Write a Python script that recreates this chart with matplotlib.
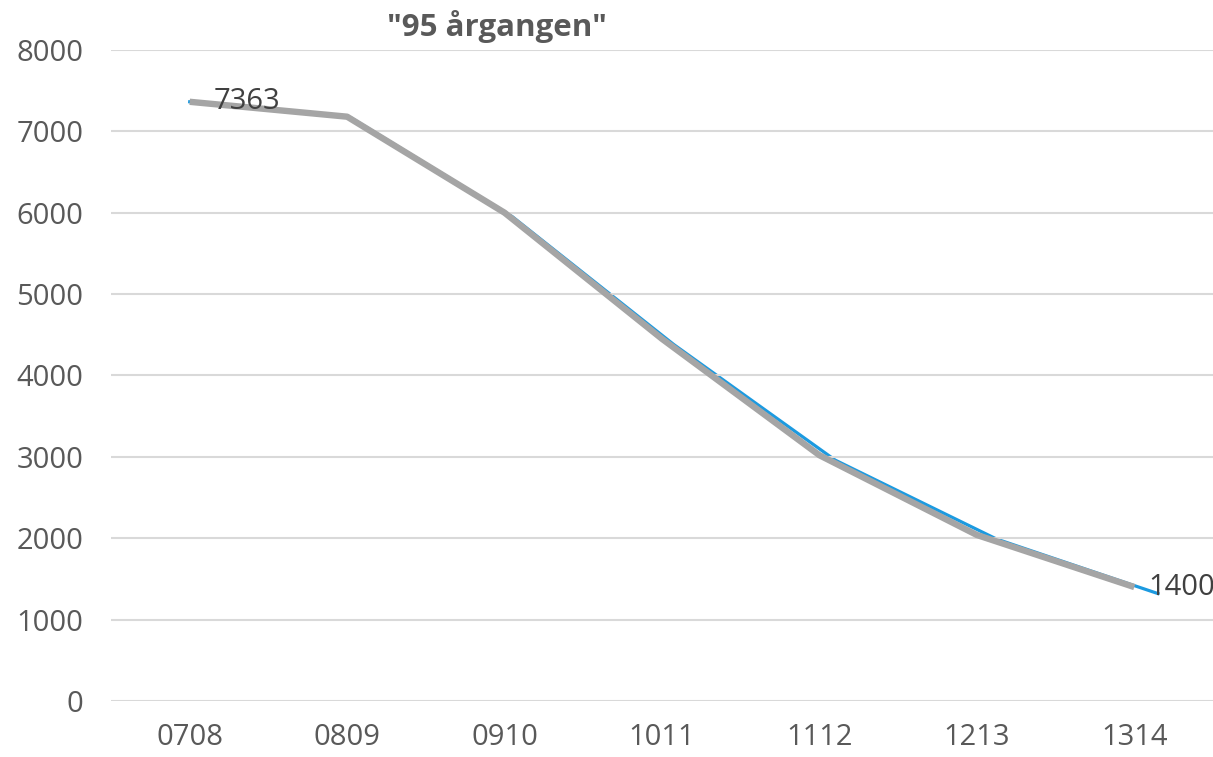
import matplotlib.pyplot as plt

# school years and pupil counts for the 1995 cohort
years = ['0708', '0809', '0910', '1011', '1112', '1213', '1314']
count_grey = [7363, 7180, 6000, 4450, 3020, 2040, 1400]
count_blue = [7363, 7165, 5950, 4380, 2960, 1990, 1320]

plt.rcParams['font.family'] = ['Open Sans', 'DejaVu Sans']

fig = plt.figure(figsize=(12.13, 7.57), dpi=100)
ax = fig.add_axes([0.0915, 0.074, 0.9085, 0.86])

pos = list(range(len(years)))

# blue series sits on its own (slightly wider) x scale, under the grey one
ax2 = ax.twiny()
ax2.plot(pos, count_blue, color='#1c9ae0', lw=2.3, zorder=2)
ax2.set_xlim(-0.5 / 1.025, 6.5 / 1.025)
ax2.set_ylim(0, 8000)
ax2.axis('off')

ax.plot(pos, count_grey, color='#a5a5a5', lw=4.6, solid_capstyle='butt', zorder=3)
ax.set_zorder(ax2.get_zorder() + 1)
ax.patch.set_visible(False)

ax.set_xlim(-0.5, 6.5)
ax.set_ylim(0, 8000)
ax.set_xticks(pos)
ax.set_xticklabels(years)
ax.set_yticks(range(0, 8001, 1000))
ax.grid(axis='y', color='#d9d9d9', lw=1.5)
ax.set_axisbelow(True)
for s in ax.spines.values():
    s.set_visible(False)
ax.tick_params(length=0, labelsize=21, labelcolor='#595959')
ax.tick_params(axis='y', pad=20)
ax.tick_params(axis='x', pad=16)

# data labels on first and last point
for i, off in [(0, 17), (6, 10)]:
    ax.annotate(str(count_grey[i]), (pos[i], count_grey[i]), xytext=(off, 0),
                textcoords='offset points', ha='left', va='center',
                fontsize=21, color='#404040', zorder=5)

fig.text(0.41, 0.953, '"95 årgangen"', ha='center', va='baseline',
         fontsize=22.5, fontweight='bold', color='#595959')

fig.savefig('out.png', dpi=100)
